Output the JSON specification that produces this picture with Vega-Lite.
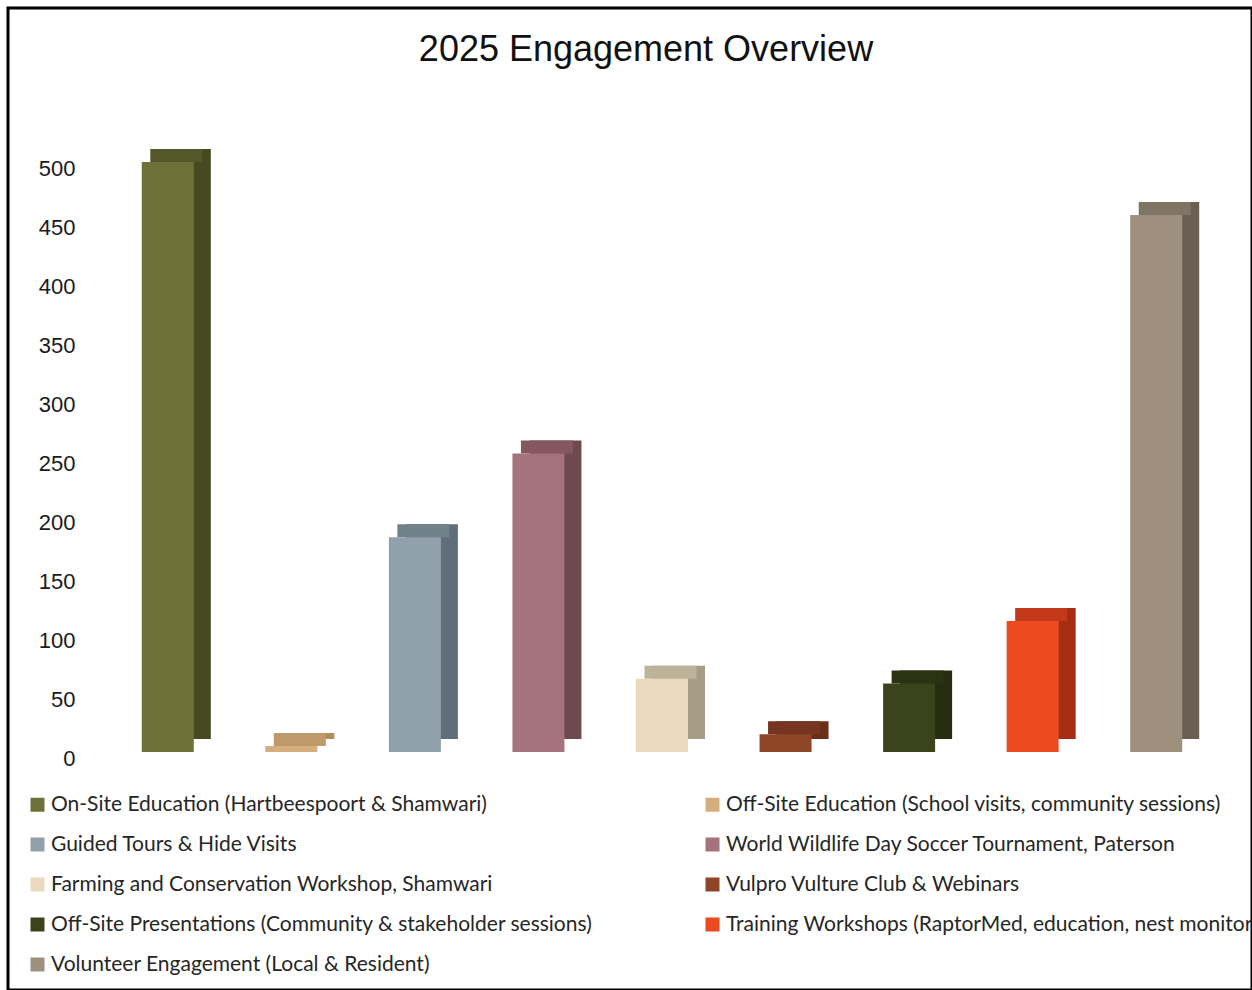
{
  "$schema": "https://vega.github.io/schema/vega-lite/v6.json",
  "width": 1244,
  "height": 982,
  "autosize": {"type": "none"},
  "padding": {"left": 8, "top": 8, "right": 0, "bottom": 0},
  "background": "white",
  "config": {"view": {"stroke": "#000000", "strokeWidth": 3}, "font": "Liberation Sans"},
  "title": {"text": "2025 Engagement Overview", "fontSize": 36, "font": "Liberation Sans", "fontWeight": "normal", "color": "#111111", "anchor": "middle", "frame": "group", "dx": 16, "offset": -89, "baseline": "alphabetic"},
  "data": {"values": [
    {"category": "On-Site Education (Hartbeespoort & Shamwari)", "value": 500},
    {"category": "Off-Site Education (School visits, community sessions)", "value": 5},
    {"category": "Guided Tours & Hide Visits", "value": 182},
    {"category": "World Wildlife Day Soccer Tournament, Paterson", "value": 253},
    {"category": "Farming and Conservation Workshop, Shamwari", "value": 62},
    {"category": "Vulpro Vulture Club & Webinars", "value": 15},
    {"category": "Off-Site Presentations (Community & stakeholder sessions)", "value": 58},
    {"category": "Training Workshops (RaptorMed, education, nest monitoring)", "value": 111},
    {"category": "Volunteer Engagement (Local & Resident)", "value": 455}
  ]},
  "encoding": {
    "x": {"field": "category", "type": "nominal", "sort": null, "axis": null, "scale": {"range": [98, 1210], "paddingInner": 0, "paddingOuter": 0}},
    "y": {"field": "value", "type": "quantitative", "scale": {"domain": [0, 500], "range": [744, 154], "nice": false, "zero": true},
      "axis": {"values": [0, 50, 100, 150, 200, 250, 300, 350, 400, 450, 500], "grid": false, "domain": false, "ticks": false, "tickSize": 0, "offset": -80, "labelPadding": 13, "labelOffset": 6, "labelFont": "Liberation Sans", "labelFontSize": 22, "labelColor": "#1a1a1a", "title": null}}
  },
  "layer": [
    {
      "mark": {"type": "bar", "width": 52, "xOffset": 17, "yOffset": -13},
      "encoding": {
        "color": {"field": "category", "type": "nominal", "sort": null, "legend": null,
          "scale": {"domain": [
            "On-Site Education (Hartbeespoort & Shamwari)",
            "Off-Site Education (School visits, community sessions)",
            "Guided Tours & Hide Visits",
            "World Wildlife Day Soccer Tournament, Paterson",
            "Farming and Conservation Workshop, Shamwari",
            "Vulpro Vulture Club & Webinars",
            "Off-Site Presentations (Community & stakeholder sessions)",
            "Training Workshops (RaptorMed, education, nest monitoring)",
            "Volunteer Engagement (Local & Resident)"],
            "range": ["#474A20", "#B08E5C", "#5F6E77", "#6F4950", "#A79D86", "#6A2F18", "#262C10", "#A52E12", "#6A5F52"]}}
      }
    },
    {
      "mark": {"type": "tick", "size": 52, "thickness": 13, "xOffset": 8.5, "yOffset": -6.5, "opacity": 1},
      "encoding": {
        "color": {"field": "category", "type": "nominal", "sort": null, "legend": null,
          "scale": {"domain": [
            "On-Site Education (Hartbeespoort & Shamwari)",
            "Off-Site Education (School visits, community sessions)",
            "Guided Tours & Hide Visits",
            "World Wildlife Day Soccer Tournament, Paterson",
            "Farming and Conservation Workshop, Shamwari",
            "Vulpro Vulture Club & Webinars",
            "Off-Site Presentations (Community & stakeholder sessions)",
            "Training Workshops (RaptorMed, education, nest monitoring)",
            "Volunteer Engagement (Local & Resident)"],
            "range": ["#53572A", "#BE996A", "#71818A", "#85585F", "#BDB39B", "#753520", "#2C3314", "#C23A19", "#7F7565"]}}
      }
    },
    {
      "mark": {"type": "bar", "width": 52},
      "encoding": {
        "color": {"field": "category", "type": "nominal", "sort": null,
          "scale": {"domain": [
            "On-Site Education (Hartbeespoort & Shamwari)",
            "Off-Site Education (School visits, community sessions)",
            "Guided Tours & Hide Visits",
            "World Wildlife Day Soccer Tournament, Paterson",
            "Farming and Conservation Workshop, Shamwari",
            "Vulpro Vulture Club & Webinars",
            "Off-Site Presentations (Community & stakeholder sessions)",
            "Training Workshops (RaptorMed, education, nest monitoring)",
            "Volunteer Engagement (Local & Resident)"],
            "range": ["#6F7238", "#D4AE7C", "#91A1AB", "#A5737B", "#EAD9BC", "#8E4528", "#3B431C", "#EC4A20", "#9E907C"]},
          "legend": {"orient": "none", "legendX": 19, "legendY": 786, "columns": 2, "direction": "horizontal", "title": null, "symbolType": "square", "symbolSize": 196, "symbolStrokeWidth": 0, "symbolOpacity": 1, "labelFont": "Lato", "labelFontSize": 21, "labelColor": "#262626", "labelLimit": 1000, "labelOffset": 3, "columnPadding": 109, "rowPadding": 18}}
      }
    }
  ],
  "resolve": {"scale": {"color": "independent"}, "legend": {"color": "independent"}}
}
